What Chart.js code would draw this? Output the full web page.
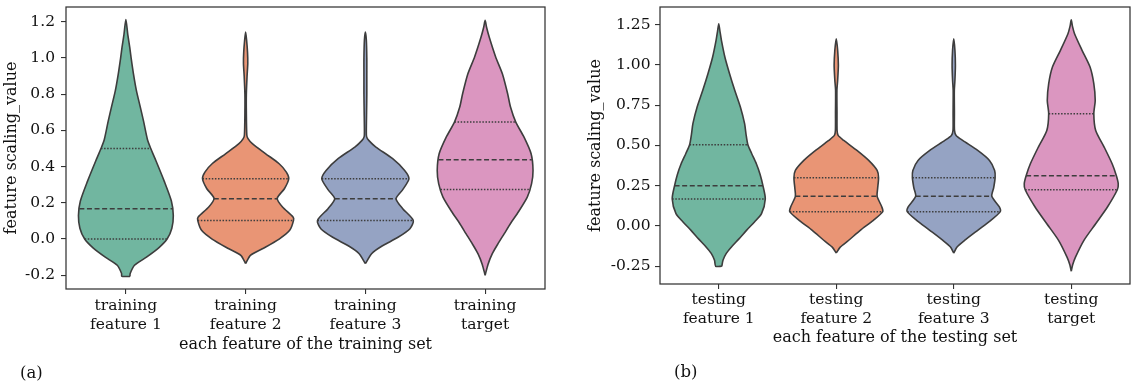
<!DOCTYPE html>
<html><head><meta charset="utf-8">
<script src="https://cdn.jsdelivr.net/npm/chart.js@4.4.1/dist/chart.umd.min.js"></script>
<style>
html,body{margin:0;padding:0;background:#fff;width:1138px;height:387px;overflow:hidden;}
.wrap{position:absolute;top:0;height:387px;}
#wa{left:0;width:560px;}
#wb{left:560px;width:578px;}
.tag{position:absolute;font-family:'DejaVu Serif';font-size:16.5px;color:#111;line-height:20px;}
</style></head><body>
<div class="wrap" id="wa"><canvas id="ca" width="560" height="387"></canvas></div>
<div class="wrap" id="wb"><canvas id="cb" width="578" height="387"></canvas></div>
<div class="tag" style="left:20px;top:363px;">(a)</div>
<div class="tag" style="left:674px;top:362px;">(b)</div>
<script>
// ---------- categories and ticks ----------
const trainCategories = [['training','feature 1'],['training','feature 2'],['training','feature 3'],['training','target']];
const testCategories  = [['testing','feature 1'],['testing','feature 2'],['testing','feature 3'],['testing','target']];
const trainYTicks = [-0.2, 0.0, 0.2, 0.4, 0.6, 0.8, 1.0, 1.2];
const testYTicks  = [-0.25, 0.0, 0.25, 0.5, 0.75, 1.0, 1.25];

// ---------- violin profiles (value, relative density) ----------
const trainF1Values  = [-0.206,-0.19,-0.145,-0.10,-0.05,0.0,0.06,0.13,0.21,0.32,0.45,0.5,0.55,0.65,0.73,0.82,0.91,1.0,1.06,1.13,1.212];
const trainF1Density = [0.085,0.09,0.18,0.43,0.68,0.86,0.96,0.99,0.95,0.80,0.60,0.52,0.45,0.37,0.30,0.22,0.16,0.11,0.08,0.04,0];
const trainF2Values  = [-0.136,-0.09,-0.054,0.0,0.048,0.103,0.122,0.177,0.225,0.278,0.333,0.37,0.416,0.471,0.527,0.555,0.575,0.7,0.8,0.9,0.97,1.03,1.1,1.144];
const trainF2Density = [0,0.1,0.35,0.7,0.92,1.0,0.99,0.77,0.66,0.81,0.9,0.85,0.7,0.42,0.14,0.05,0.025,0.015,0.015,0.03,0.045,0.04,0.02,0];
const trainF3Values  = [-0.136,-0.081,-0.04,0.011,0.057,0.103,0.168,0.223,0.273,0.333,0.379,0.444,0.508,0.545,0.566,0.6,0.7,0.8,0.9,1.0,1.1,1.144];
const trainF3Density = [0,0.13,0.34,0.69,0.93,1.0,0.78,0.64,0.78,0.91,0.82,0.57,0.22,0.07,0.025,0.02,0.025,0.03,0.03,0.03,0.02,0];
const trainTgValues  = [-0.2,-0.14,-0.081,-0.03,0.03,0.09,0.14,0.232,0.306,0.379,0.471,0.564,0.646,0.729,0.803,0.913,1.006,1.116,1.17,1.208];
const trainTgDensity = [0,0.06,0.15,0.26,0.40,0.54,0.67,0.88,0.97,1.0,0.96,0.81,0.64,0.53,0.47,0.36,0.22,0.085,0.03,0];

const testF1Values  = [-0.25,-0.213,-0.17,-0.13,-0.08,-0.027,0.025,0.077,0.168,0.25,0.32,0.386,0.45,0.504,0.57,0.635,0.738,0.842,0.945,1.049,1.152,1.21,1.255];
const testF1Density = [0.065,0.09,0.16,0.27,0.43,0.59,0.76,0.91,0.99,0.94,0.88,0.80,0.70,0.62,0.58,0.55,0.46,0.34,0.23,0.13,0.057,0.025,0];
const testF2Values  = [-0.168,-0.131,-0.09,-0.027,0.035,0.089,0.118,0.184,0.232,0.3,0.345,0.407,0.469,0.531,0.562,0.593,0.7,0.842,0.904,0.997,1.09,1.162];
const testF2Density = [0,0.085,0.26,0.51,0.79,0.99,0.97,0.87,0.88,0.90,0.87,0.69,0.44,0.16,0.04,0.018,0.016,0.014,0.03,0.045,0.03,0];
const testF3Values  = [-0.168,-0.131,-0.09,-0.027,0.035,0.089,0.118,0.184,0.238,0.3,0.345,0.407,0.469,0.531,0.562,0.593,0.7,0.842,0.904,0.997,1.09,1.162];
const testF3Density = [0,0.07,0.23,0.51,0.79,0.99,0.97,0.81,0.85,0.88,0.87,0.76,0.51,0.19,0.05,0.016,0.014,0.012,0.025,0.035,0.025,0];
const testTgValues  = [-0.281,-0.24,-0.193,-0.089,0.014,0.118,0.225,0.262,0.312,0.386,0.49,0.593,0.697,0.779,0.883,0.986,1.09,1.193,1.24,1.28];
const testTgDensity = [0,0.03,0.09,0.27,0.52,0.77,0.98,1.0,0.96,0.87,0.70,0.52,0.48,0.51,0.48,0.40,0.23,0.07,0.025,0];

// quartiles [q1, median, q3]
const trainQuartiles = [[0.0,0.167,0.5],[0.103,0.223,0.333],[0.103,0.223,0.333],[0.274,0.438,0.646]];
const testQuartiles  = [[0.168,0.25,0.504],[0.089,0.184,0.3],[0.089,0.184,0.3],[0.225,0.312,0.697]];

const palette = ['#71b6a0','#e99575','#95a3c3','#db96c0'];
const edgeColor = '#3d3d3d';
const MAX_HALF = 0.4;

function widthAt(vals, dens, q){
  for (let k=0;k<vals.length-1;k++){
    if (q>=vals[k] && q<=vals[k+1]){
      const t=(q-vals[k])/(vals[k+1]-vals[k]);
      return dens[k]+(dens[k+1]-dens[k])*t;
    }
  }
  return 0;
}
function outline(idx, vals, dens){
  const right = vals.map((v,k)=>({x: idx + dens[k]*MAX_HALF, y: v}));
  let left = vals.map((v,k)=>({x: idx - dens[k]*MAX_HALF, y: v})).reverse();
  if (dens[dens.length-1] === 0) left = left.slice(1);
  const pts = right.concat(left);
  if (dens[0] !== 0) pts.push({x: right[0].x, y: right[0].y});
  return pts;
}
function buildDatasets(profiles, quartiles){
  const ds = [];
  profiles.forEach((p,i)=>{
    quartiles[i].forEach((q,j)=>{
      const w = widthAt(p[0], p[1], q)*MAX_HALF;
      ds.push({data:[{x:i-w,y:q},{x:i+w,y:q}], showLine:true, pointRadius:0, borderColor:edgeColor,
        borderWidth:1.5, borderDash: j===1 ? [5,2.6] : [1.5,1.6], tension:0});
    });
  });
  profiles.forEach((p,i)=>{
    ds.push({data: outline(i,p[0],p[1]), showLine:true, pointRadius:0, borderColor:edgeColor, borderWidth:1.6,
      tension:0.25, borderJoinStyle:'round', violinFill: palette[i]});
  });
  return ds;
}

const violinPlugin = {
  id:'violinFill',
  beforeDatasetsDraw(chart){
    const ctx = chart.ctx;
    chart.data.datasets.forEach((d,i)=>{
      if (!d.violinFill) return;
      const line = chart.getDatasetMeta(i).dataset;
      line.updateControlPoints(chart.chartArea, 'x');
      ctx.save();
      ctx.beginPath();
      line.path(ctx);
      ctx.closePath();
      ctx.fillStyle = d.violinFill;
      ctx.fill();
      ctx.restore();
    });
  },
  afterDraw(chart){
    const a = chart.chartArea, ctx = chart.ctx;
    ctx.save();
    ctx.strokeStyle = '#333';
    ctx.lineWidth = 1.25;
    ctx.strokeRect(a.left, a.top, a.right-a.left, a.bottom-a.top);
    ctx.restore();
  }
};

const tickFont  = {family:'DejaVu Serif', size:15.5, lineHeight:1.2};
const titleFont = {family:'DejaVu Serif', size:16, lineHeight:1.2};

function makeChart(id, cfg){
  return new Chart(document.getElementById(id), {
    type:'scatter',
    data:{datasets: buildDatasets(cfg.profiles, cfg.quartiles)},
    options:{
      responsive:false, animation:false,
      layout:{padding:{left:0, top:7, right:cfg.padRight, bottom:0}},
      plugins:{legend:{display:false}, tooltip:{enabled:false}},
      scales:{
        x:{type:'linear', min:-0.5, max:3.5,
          afterBuildTicks: s=>{ s.ticks = cfg.categories.map((c,i)=>({value:i})); },
          afterFit: s=>{ s.height = cfg.xHeight; s.paddingLeft = 0; s.paddingRight = 0; },
          ticks:{callback: v=>cfg.categories[v], autoSkip:false, maxRotation:0, minRotation:0, padding:cfg.xPad, font:tickFont, color:'#111'},
          grid:{display:true, drawOnChartArea:false, drawTicks:true, tickLength:5, color:'#333', lineWidth:1.1},
          border:{display:false},
          title:{display:true, text:cfg.xTitle, font:titleFont, color:'#111', padding:{top:0, bottom:cfg.xTitlePad}}
        },
        y:{type:'linear', min:cfg.yMin, max:cfg.yMax,
          afterBuildTicks: s=>{ s.ticks = cfg.yTicks.map(v=>({value:v})); },
          afterFit: s=>{ s.width = cfg.yWidth; s.paddingTop = 0; s.paddingBottom = 0; },
          ticks:{callback: v=>v.toFixed(cfg.decimals), padding:cfg.yPad, font:tickFont, color:'#111'},
          grid:{display:true, drawOnChartArea:false, drawTicks:true, tickLength:5, color:'#333', lineWidth:1.1},
          border:{display:false},
          title:{display:true, text:'feature scaling_value', font:titleFont, color:'#111', padding:{top:cfg.yTitlePad, bottom:0}}
        }
      }
    },
    plugins:[violinPlugin]
  });
}

makeChart('ca', {
  profiles:[[trainF1Values,trainF1Density],[trainF2Values,trainF2Density],[trainF3Values,trainF3Density],[trainTgValues,trainTgDensity]],
  quartiles: trainQuartiles, categories: trainCategories, yTicks: trainYTicks,
  yMin:-0.276, yMax:1.282, decimals:1,
  padRight: 15, xHeight: 98, yWidth: 66, xPad: 2.7, yPad: 6, xTitlePad: 32.4, yTitlePad: 2.4,
  xTitle:'each feature of the training set'
});
makeChart('cb', {
  profiles:[[testF1Values,testF1Density],[testF2Values,testF2Density],[testF3Values,testF3Density],[testTgValues,testTgDensity]],
  quartiles: testQuartiles, categories: testCategories, yTicks: testYTicks,
  yMin:-0.36, yMax:1.359, decimals:2,
  padRight: 8, xHeight: 103, yWidth: 100, xPad: 1.7, yPad: 4.5, xTitlePad: 39.1, yTitlePad: 26.4,
  xTitle:'each feature of the testing set'
});
</script>
</body></html>
